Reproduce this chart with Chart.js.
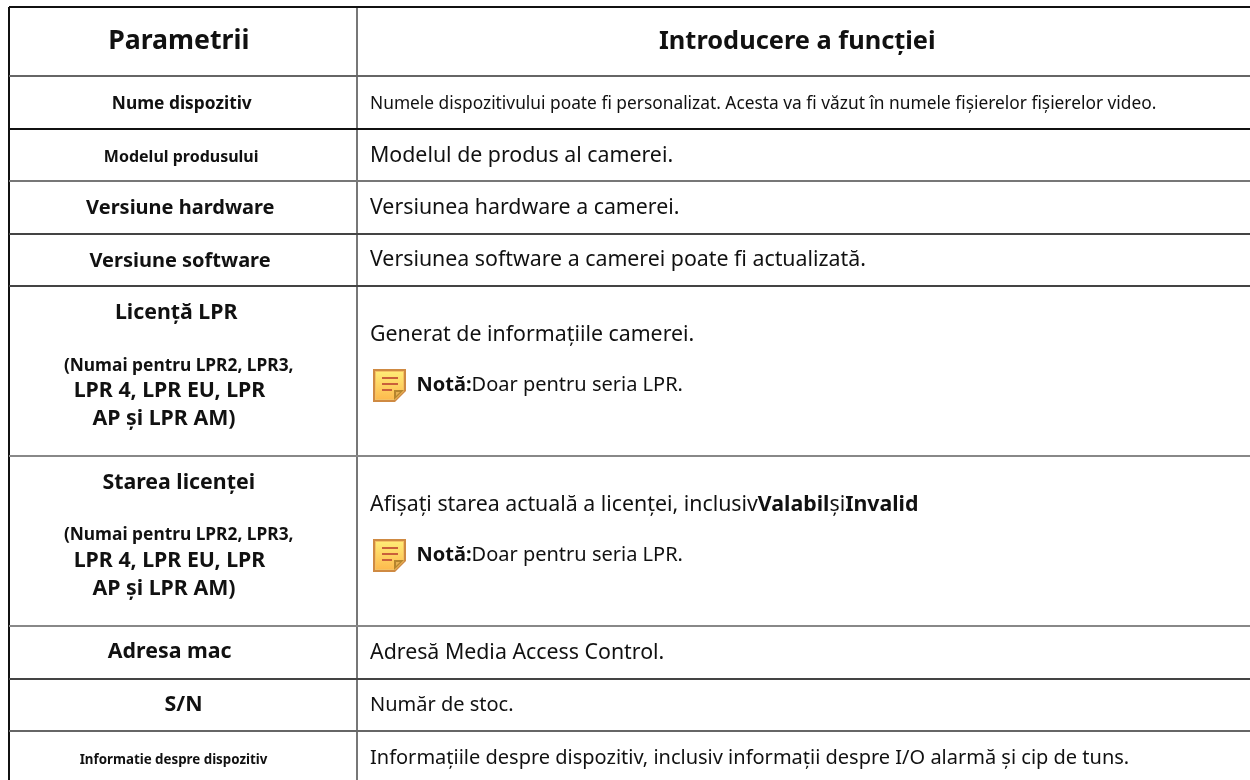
<!DOCTYPE html>
<html>
<head>
<meta charset="utf-8">
<title>Parametrii</title>
<script src="https://cdn.jsdelivr.net/npm/chart.js@4/dist/chart.umd.min.js"></script>
<style>
  html, body { margin:0; padding:0; background:#fff; }
  canvas { display:block; }
</style>
</head>
<body>
<canvas id="c" width="1250" height="780"></canvas>
<script>
// table content
const headers = ['Parametrii', 'Introducere a funcției'];
const paramLines = [
  'Nume dispozitiv', 'Modelul produsului', 'Versiune hardware', 'Versiune software',
  'Licență LPR', '(Numai pentru LPR2, LPR3,', 'LPR 4, LPR EU, LPR', 'AP și LPR AM)',
  'Starea licenței', '(Numai pentru LPR2, LPR3,', 'LPR 4, LPR EU, LPR', 'AP și LPR AM)',
  'Adresa mac', 'S/N', 'Informatie despre dispozitiv'
];
const descLines = [
  [['Numele dispozitivului poate fi personalizat. Acesta va fi văzut în numele fișierelor fișierelor video.', 0]],
  [['Modelul de produs al camerei.', 0]],
  [['Versiunea hardware a camerei.', 0]],
  [['Versiunea software a camerei poate fi actualizată.', 0]],
  [['Generat de informațiile camerei.', 0]],
  [['Notă:', 1], ['Doar pentru seria LPR.', 0]],
  [['Afișați starea actuală a licenței, inclusiv', 0], ['Valabil', 1], ['și', 0], ['Invalid', 1]],
  [['Notă:', 1], ['Doar pentru seria LPR.', 0]],
  [['Adresă Media Access Control.', 0]],
  [['Număr de stoc.', 0]],
  [['Informațiile despre dispozitiv, inclusiv informații despre I/O alarmă și cip de tuns.', 0]]
];
// table lines, in page units
const columnEdges = [9, 357];
const rowEdges = [7, 76, 129, 181, 234, 286, 456, 626, 679, 731];
const noteX = [389.5, 389.5];
const noteY = [385.5, 555.5];

// placement and styles
const columnColors = ['#111', '#777'];
const rowColors = ['#111', '#666', '#111', '#777', '#444', '#444', '#888', '#888', '#444', '#666'];
const headerX = [178.8, 797.3];
const headerY = [49, 49];
const headerSize = [26.67, 25.4];
const paramCenter = [181.8, 181.2, 180.3, 180, 176.2, 178.7, 169.5, 164, 178.7, 178.7, 169.5, 164, 169.7, 183.5, 173.5];
const paramY = [109, 162, 214, 267, 319, 371, 397, 425, 489, 540, 567, 595, 658, 711, 764];
const paramSize = [17.33, 16, 20, 20, 21.33, 17.33, 21.33, 21.33, 21.33, 17.33, 21.33, 21.33, 21.33, 21.33, 13.33];
const descX = [370, 370, 370, 370, 370, 416.5, 370, 416.5, 370, 370, 370];
const descY = [109, 161.5, 214, 266, 341, 391, 511, 561, 659, 711, 764];
const descSize = [17.33, 21.33, 21.33, 21.33, 21.33, 20, 21.33, 20, 21.33, 20, 20];

const FONT = '"Noto Sans", "Open Sans", sans-serif';

function noteIcon() {
  const s = document.createElement('canvas');
  s.width = 33; s.height = 33;
  const g = s.getContext('2d');
  const outline = (a, b) => {
    g.beginPath();
    g.moveTo(a, a); g.lineTo(33 - a, a); g.lineTo(33 - a, b); g.lineTo(b, 33 - a); g.lineTo(a, 33 - a);
    g.closePath(); g.fill();
  };
  const fill = g.createLinearGradient(0, 0, 0, 33);
  fill.addColorStop(0, '#fff07a');
  fill.addColorStop(1, '#fdb54a');
  g.fillStyle = '#cf8a42';
  outline(0, 22);
  g.fillStyle = '#f4c263';
  outline(2, 22);
  g.fillStyle = fill;
  outline(3, 22);
  g.fillStyle = '#b5852e';
  g.beginPath(); g.moveTo(21, 21); g.lineTo(31, 21); g.lineTo(21, 31); g.closePath(); g.fill();
  g.fillStyle = '#e8b050';
  g.beginPath(); g.moveTo(23, 23); g.lineTo(27, 23); g.lineTo(23, 27); g.closePath(); g.fill();
  g.fillStyle = '#c9603a';
  g.fillRect(9, 8, 16, 2);
  g.fillRect(9, 14, 16, 2);
  g.fillRect(9, 20, 10, 2);
  return s;
}

const tableText = {
  id: 'tableText',
  afterDatasetsDraw(chart) {
    const ctx = chart.ctx, x = chart.scales.x, y = chart.scales.y;
    ctx.save();
    ctx.fillStyle = '#111';
    ctx.textBaseline = 'alphabetic';
    ctx.textAlign = 'center';
    headers.forEach((h, i) => {
      ctx.font = 'bold ' + headerSize[i] + 'px ' + FONT;
      ctx.fillText(h, x.getPixelForValue(headerX[i]), y.getPixelForValue(headerY[i]));
    });
    paramLines.forEach((t, i) => {
      ctx.font = 'bold ' + paramSize[i] + 'px ' + FONT;
      ctx.fillText(t, x.getPixelForValue(paramCenter[i]), y.getPixelForValue(paramY[i]));
    });
    ctx.textAlign = 'left';
    descLines.forEach((runs, i) => {
      let px = x.getPixelForValue(descX[i]);
      runs.forEach(([t, bold]) => {
        ctx.font = (bold ? 'bold ' : '') + descSize[i] + 'px ' + FONT;
        ctx.fillText(t, px, y.getPixelForValue(descY[i]));
        px += ctx.measureText(t).width;
      });
    });
    ctx.restore();
  }
};

new Chart(document.getElementById('c'), {
  type: 'scatter',
  data: { datasets: [{
    data: noteX.map((v, i) => ({ x: v, y: noteY[i] })),
    pointStyle: noteIcon(),
    pointRadius: 16
  }]},
  options: {
    responsive: false,
    animation: false,
    layout: { autoPadding: false, padding: { left: 9, top: 7 } },
    plugins: { legend: { display: false }, tooltip: { enabled: false } },
    scales: {
      x: {
        type: 'linear', min: 9, max: 1250,
        afterBuildTicks: s => { s.ticks = columnEdges.map(v => ({ value: v })); },
        ticks: { display: false, autoSkip: false },
        border: { display: false },
        grid: { drawTicks: false, lineWidth: 2, color: c => columnColors[c.index] }
      },
      y: {
        type: 'linear', min: 7, max: 780, reverse: true,
        afterBuildTicks: s => { s.ticks = rowEdges.map(v => ({ value: v })); },
        ticks: { display: false, autoSkip: false },
        border: { display: false },
        grid: { drawTicks: false, lineWidth: 2, color: c => rowColors[c.index] }
      }
    }
  },
  plugins: [tableText]
});
</script>
</body>
</html>
